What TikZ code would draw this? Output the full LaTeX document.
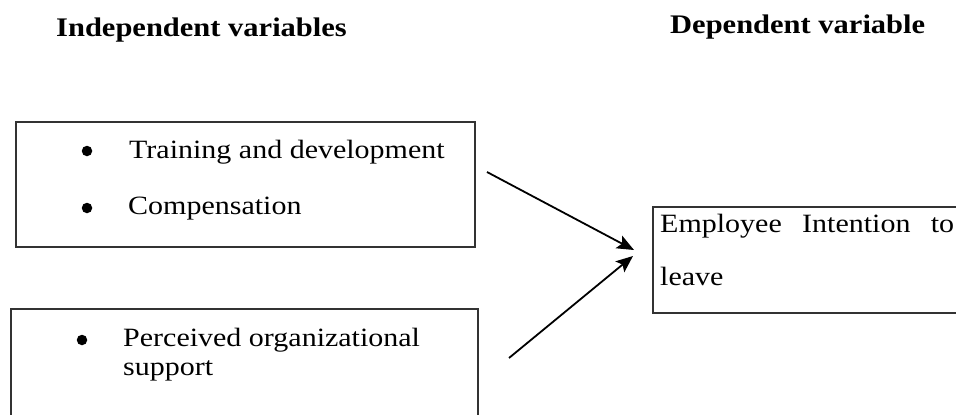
\documentclass[tikz,border=0pt]{standalone}
\usepackage{fontspec}
\setmainfont{Liberation Serif}
\usetikzlibrary{arrows.meta}
% squeeze text a little in height
\newcommand{\vsq}[1]{\scalebox{1}[0.88]{#1}}
\begin{document}
\begin{tikzpicture}[x=1pt,y=-1pt,
  heading/.style={font=\bfseries\fontsize{30.5}{36}\selectfont, anchor=base west, inner sep=0pt},
  itemtext/.style={font=\fontsize{30}{36}\selectfont, anchor=base west, inner sep=0pt},
  frame/.style={rectangle, draw=black!80, line width=1.1pt, inner sep=0pt},
  dot/.style={circle, fill=black, minimum size=10.5pt, inner sep=0pt},
  link/.style={line width=1.8pt, -{Stealth[length=17pt,width=14pt,inset=3.5pt]}}]
\useasboundingbox (0,0) rectangle (956,415);
\clip (0,0) rectangle (956,415);

% column headings
\node[heading] (hind) at (56,36) {\vsq{Independent variables}};
\node[heading] (hdep) at (670,34) {\vsq{Dependent variable}};

% frames
\node[frame, minimum width=459pt, minimum height=125pt] (box1) at (245.5,184.5) {};
\node[frame, minimum width=467pt, minimum height=121pt] (box2) at (244.5,369.5) {};
\node[frame, minimum width=317pt, minimum height=106pt] (box3) at (811.5,260) {};

% first group of independent variables
\node[dot] (b1) at (87,151) {};
\node[itemtext] (t1) at (129,158) {\vsq{Training and development}};
\node[dot] (b2) at (87,208) {};
\node[itemtext] (t2) at (128,214) {\vsq{Compensation}};

% second group
\node[dot] (b3) at (82,340) {};
\node[itemtext] (t3) at (123,346) {\vsq{Perceived organizational}};
\node[itemtext] (t4) at (123,375) {\vsq{support}};

% dependent variable
\node[itemtext] (t5) at (660,232) {\vsq{\makebox[294pt][s]{Employee Intention to}}};
\node[itemtext] (t6) at (660,285) {\vsq{leave}};

% arrows
\coordinate (a1s) at (487,172);
\coordinate (a1e) at (634,250);
\coordinate (a2s) at (509,358);
\coordinate (a2e) at (633,256);
\draw[link] (a1s) -- (a1e);
\draw[link] (a2s) -- (a2e);
\end{tikzpicture}
\end{document}
